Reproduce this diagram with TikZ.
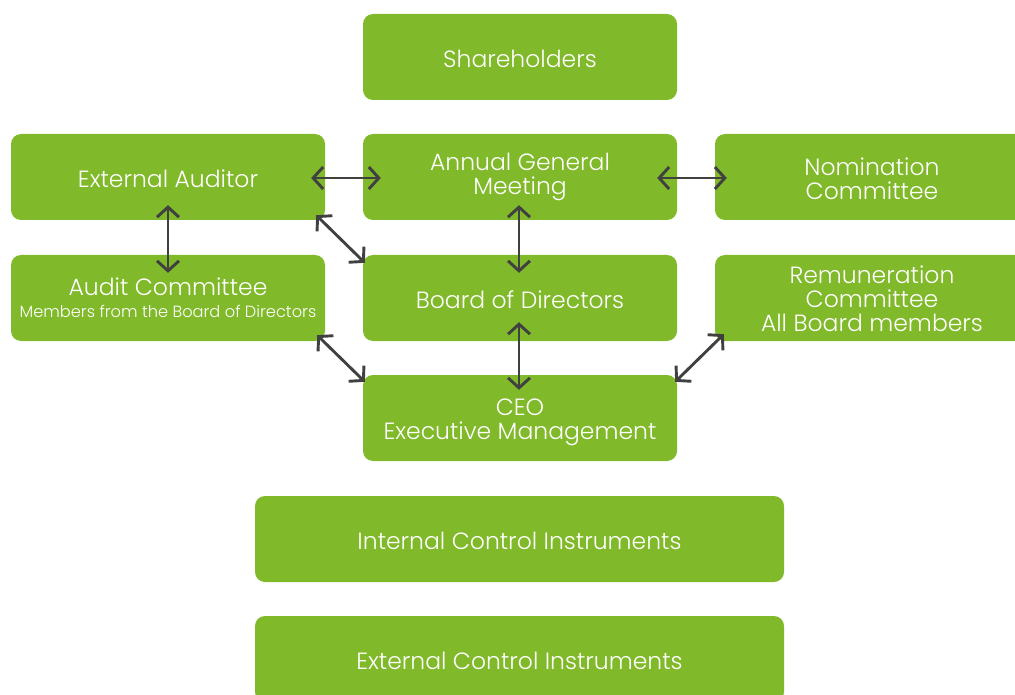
\documentclass[tikz,border=0pt]{standalone}
\usepackage{fontspec}
\setmainfont{Poppins Light}
\usetikzlibrary{arrows.meta,calc}
\definecolor{boxgreen}{HTML}{80B929}
\definecolor{arrgray}{HTML}{404040}
\newcommand{\dn}[2][-1.5pt]{\raisebox{#1}[\height][\depth]{#2}}
\tikzset{
  gbox/.style={draw=none,fill=boxgreen,rounded corners=10pt,minimum width=314pt,minimum height=86pt,inner sep=0pt,align=center,text=white,font=\fontsize{23.5}{24}\selectfont},
  widebox/.style={gbox,minimum width=529pt},
  arr/.style={draw=arrgray,line width=2.9pt,arrows={Straight Barb[length=10pt,width=22pt]-Straight Barb[length=10pt,width=22pt]}}
}
\begin{document}
\begin{tikzpicture}[x=1pt,y=1pt]
\useasboundingbox (0,0) rectangle (1015,-695);
\clip (0,0) rectangle (1015,-695);
\node[gbox] (sh) at (520,-57) {\dn{Shareholders}};
\node[gbox] (ea) at (168,-177) {\dn{External Auditor}};
\node[gbox] (agm) at (520,-177) {Annual General\\Meeting};
\node[gbox] (nom) at (872,-177) {\dn{Nomination}\\\dn{Committee}};
\node[gbox] (ac) at (168,-298) {Audit Committee\\[-2pt]{\fontsize{16.2}{17}\selectfont Members from the Board of Directors}};
\node[gbox] (bod) at (520,-298) {\dn{Board of Directors}};
\node[gbox] (rem) at (872,-298) {\dn[-1pt]{Remuneration}\\\dn[-1pt]{Committee}\\\dn[-1pt]{All Board members}};
\node[gbox] (ceo) at (520,-418) {\dn[-4.5pt]{CEO}\\\dn[-4.5pt]{Executive Management}};
\node[widebox] (ici) at (519.5,-539) {\dn{Internal Control Instruments}};
\node[widebox] (eci) at (519.5,-659) {\dn{External Control Instruments}};
\draw[arr] ($(ea.east)+(-14,-1)$) -- ($(agm.west)+(18,-1)$);
\draw[arr] ($(agm.east)+(-20,-1)$) -- ($(nom.west)+(12,-1)$);
\draw[arr] ($(ea.south)+(0,15)$) -- ($(ac.north)+(0,-18)$);
\draw[arr] ($(agm.south)+(-1,15)$) -- ($(bod.north)+(-1,-18)$);
\draw[arr] ($(bod.south)+(-1,19)$) -- ($(ceo.north)+(-1,-15)$);
\draw[arr] ($(ea.south east)+(-9,5)$) -- ($(bod.north west)+(2,-8)$);
\draw[arr] ($(ac.south east)+(-8,6)$) -- ($(ceo.north west)+(2,-7)$);
\draw[arr] ($(rem.south west)+(9,7)$) -- ($(ceo.north east)+(-2,-7)$);
\end{tikzpicture}
\end{document}
